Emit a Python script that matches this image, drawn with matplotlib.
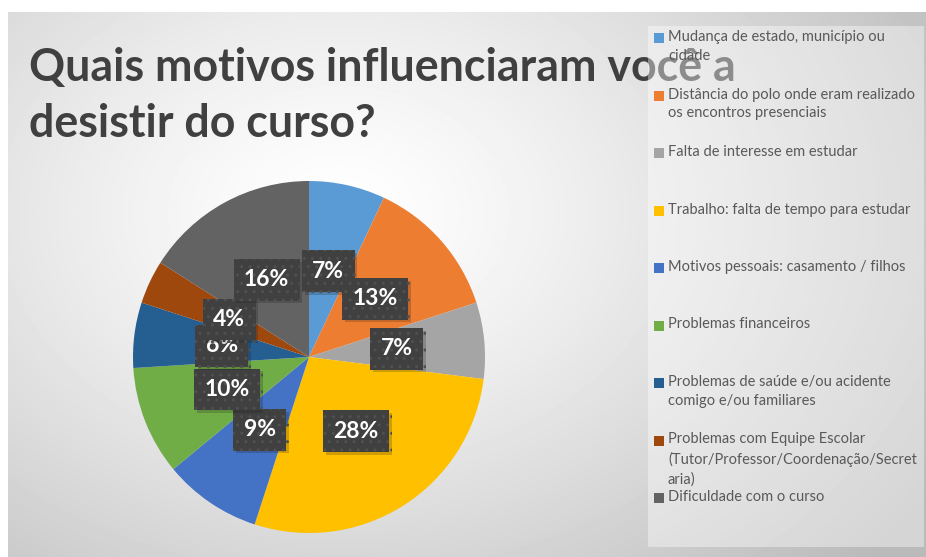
import numpy as np
import matplotlib
matplotlib.use("Agg")
import matplotlib.pyplot as plt
import matplotlib.patheffects as pe
from matplotlib.patches import Rectangle

plt.rcParams["font.family"] = ["Lato", "DejaVu Sans"]

motivos = [
    "Mudança de estado, município ou\ncidade",
    "Distância do polo onde eram realizado\nos encontros presenciais",
    "Falta de interesse em estudar",
    "Trabalho: falta de tempo para estudar",
    "Motivos pessoais: casamento / filhos",
    "Problemas financeiros",
    "Problemas de saúde e/ou acidente\ncomigo e/ou familiares",
    "Problemas com Equipe Escolar\n(Tutor/Professor/Coordenação/Secret\naria)",
    "Dificuldade com o curso",
]
percentuais = [7, 13, 7, 28, 9, 10, 6, 4, 16]
cores = ["#5B9BD5", "#ED7D31", "#A5A5A5", "#FFC000", "#4472C4",
         "#70AD47", "#255E91", "#9E480E", "#636363"]

W, H = 926, 557
fig = plt.figure(figsize=(W / 100, H / 100), dpi=100)
fig.patch.set_facecolor("white")

# fundo com gradiente radial
bg = fig.add_axes([8 / W, 0, (W - 8) / W, (H - 12) / H])
yy, xx = np.mgrid[0:545, 0:918]
d = np.sqrt(((xx - 330) / 700.0) ** 2 + ((yy - 200) / 520.0) ** 2)
shade = 1.0 - 0.27 * np.clip(d, 0, 1) ** 1.3
bg.imshow(shade, cmap="gray", vmin=0, vmax=1, aspect="auto",
          extent=[0, 1, 0, 1], origin="upper")
bg.set_axis_off()

# titulo
fig.text(29 / W, 1 - 47 / H, "Quais motivos influenciaram você a\ndesistir do curso?",
         fontsize=32.2, fontweight="bold", color="#404040", va="top", ha="left",
         linespacing=1.42, zorder=2)

# painel da legenda
fig.patches.append(Rectangle((648 / W, 1 - 547 / H), (924 - 648) / W, (547 - 26) / H,
                             transform=fig.transFigure, facecolor="white",
                             edgecolor="none", alpha=0.4, zorder=3))

# pizza
cx, cy, r = 309, 357, 176
ax = fig.add_axes([(cx - r) / W, (H - cy - r) / H, 2 * r / W, 2 * r / H])
wedges, _, autotexts = ax.pie(
    percentuais, colors=cores, startangle=90, counterclock=False,
    autopct=lambda p: f"{p:.0f}%", pctdistance=0.5,
    wedgeprops=dict(linewidth=0),
    textprops=dict(color="white", fontsize=16.5, fontweight="bold"),
)
ax.set_xlim(-1, 1)
ax.set_ylim(-1, 1)
for t in autotexts:
    t.set_bbox(dict(boxstyle="square,pad=0.45", facecolor="#404040",
                    edgecolor="#505050", hatch="..", linewidth=0))
    t.get_bbox_patch().set_path_effects(
        [pe.SimplePatchShadow(offset=(2, -2), alpha=0.2), pe.Normal()])

# legenda
for i, (rot, cor) in enumerate(zip(motivos, cores)):
    yc = 38 + i * 57.5
    fig.patches.append(Rectangle((654 / W, 1 - (yc + 5) / H), 10 / W, 10 / H,
                                 transform=fig.transFigure, facecolor=cor,
                                 edgecolor="none", zorder=4))
    fig.text(668 / W, 1 - (yc - 8) / H, rot, fontsize=10.5, color="#595959",
             va="top", ha="left", linespacing=1.45, zorder=5)

fig.savefig("out.png", dpi=100)
